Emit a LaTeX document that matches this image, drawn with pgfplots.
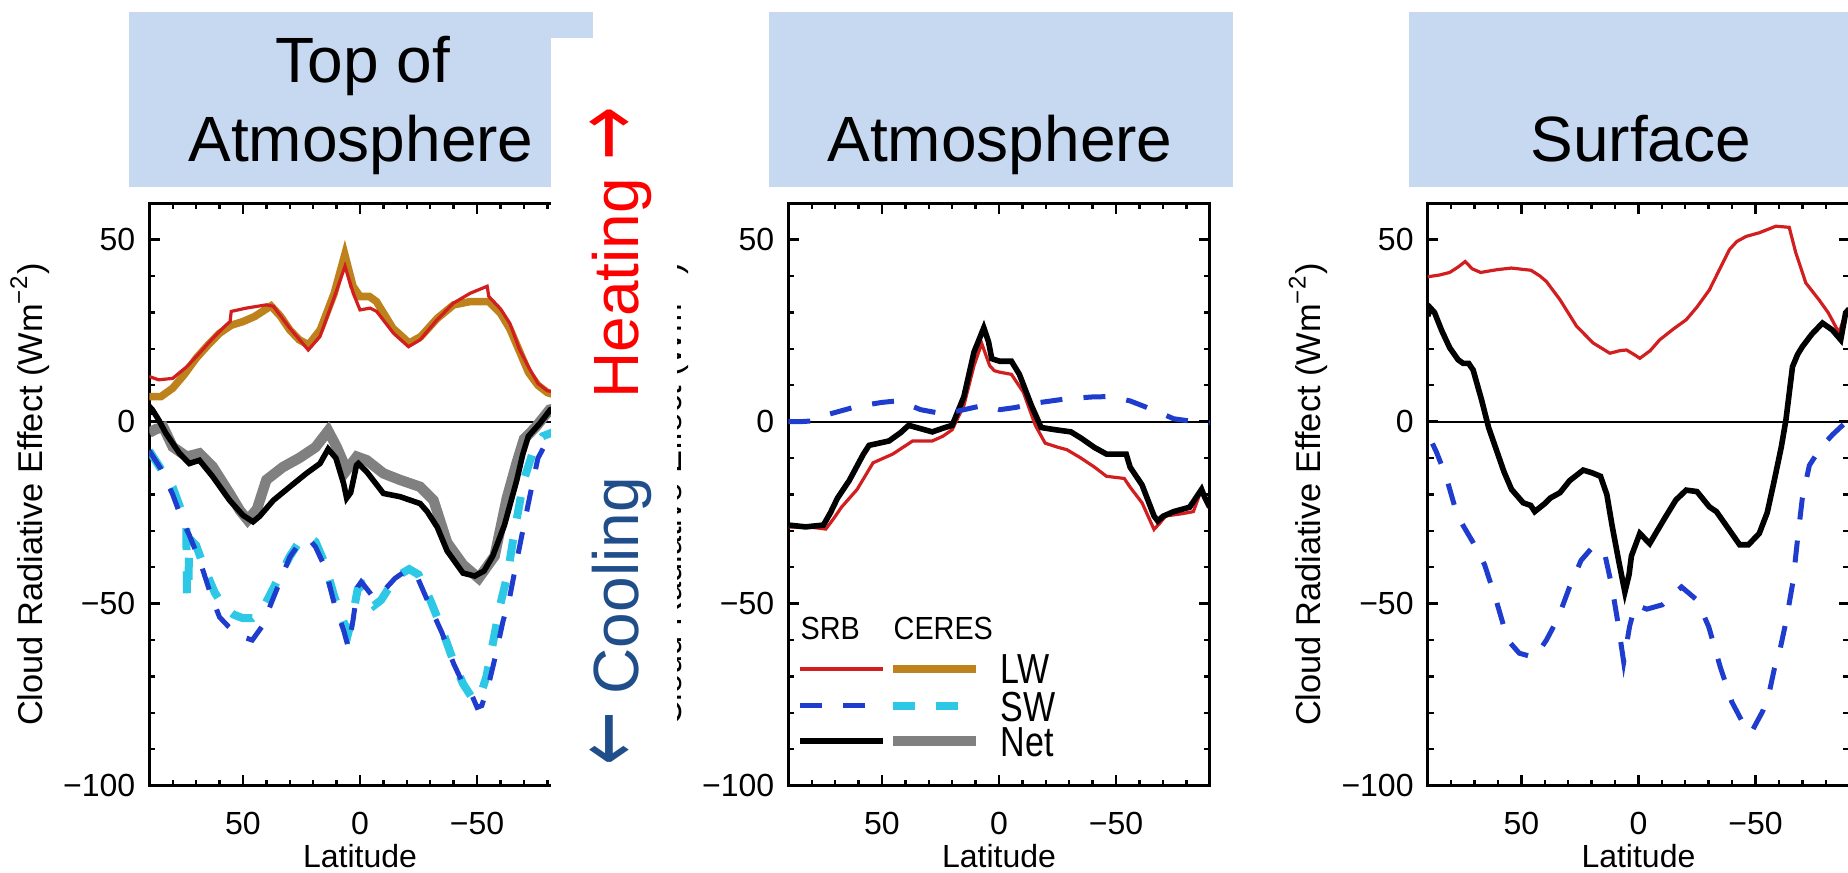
\documentclass[border=0pt]{standalone}
\usepackage{fontspec}
\setmainfont{Liberation Sans}
\newfontfamily\arrowfont{DejaVu Sans}
\usepackage{graphicx}
\usepackage{pgfplots}
\pgfplotsset{compat=1.18}
\definecolor{hdr}{RGB}{198,217,240}
\definecolor{srbred}{RGB}{210,30,30}
\definecolor{ceresbrown}{RGB}{190,130,28}
\definecolor{srbblue}{RGB}{30,60,205}
\definecolor{cerescyan}{RGB}{45,200,230}
\definecolor{ceresgray}{RGB}{128,128,128}
\definecolor{coolblue}{RGB}{31,78,138}
\tikzset{
  srblw/.style={color=srbred, line width=0.8pt},
  cereslw/.style={color=ceresbrown, line width=1.9pt},
  srbsw/.style={color=srbblue, line width=1.25pt, dash pattern=on 5.5pt off 5.3pt},
  ceressw/.style={color=cerescyan, line width=2pt, dash pattern=on 5.5pt off 5.3pt},
  srbnet/.style={color=black, line width=1.4pt},
  ceresnet/.style={color=ceresgray, line width=2.6pt},
  zeroline/.style={color=black, line width=0.55pt},
}
\newcommand{\bigarrow}[1]{{\arrowfont\scalebox{1}[1.45]{#1}}}
\pgfplotsset{
  panel/.style={
    scale only axis, width=105.375pt, height=145.6pt,
    xmin=-90, xmax=90, ymin=-100, ymax=60, x dir=reverse,
    xtick={-50,0,50}, xticklabels={−50,0,50},
    ytick={-100,-50,0,50}, yticklabels={−100,−50,0,50},
    minor xtick={-90,-80,...,90}, minor ytick={-100,-90,...,60},
    tick align=inside, major tick length=2.6pt, minor tick length=1.5pt,
    every tick/.style={black, line width=0.6pt},
    axis line style={line width=0.8pt},
    tick label style={font=\fontsize{8}{9.6}\selectfont},
    xticklabel style={yshift=-3pt},
    xlabel={Latitude},
    every axis x label/.style={at={(axis description cs:0.5,-0.1413)}, anchor=base, font=\fontsize{8}{9.6}\selectfont},
    ylabel={Cloud\ Radiative\ Effect\ (Wm\textsuperscript{−2})},
    every axis y label/.style={at={(axis description cs:-0.283,0.5)}, rotate=90, anchor=center, font=\fontsize{8.6}{10}\selectfont},
    no marks, clip=true,
  }
}
\begin{document}
\begin{tikzpicture}
\useasboundingbox (0,0) rectangle (462pt,218.25pt);
\clip (0,0) rectangle (462pt,218.25pt);
% ---------------- Panel 1: Top of Atmosphere
\begin{axis}[panel, at={(37.325pt,21.825pt)}, anchor=south west]
\addplot[zeroline] coordinates {(90,0) (-90,0)};
\addplot[ceresnet] coordinates {(90,-3) (87,-2) (84,-1.5) (80,-6.9) (74,-9.6) (68.6,-8.7) (62.9,-12.4) (55.7,-19.7) (51.4,-24.3) (48,-27) (44,-24) (40,-16) (33,-12.5) (26,-10) (19,-7) (13.6,-2.5) (10,-6.9) (5.7,-13.3) (1.4,-9.6) (-2.9,-10.6) (-10,-14.2) (-17.1,-16) (-25.7,-17.9) (-31.4,-21.6) (-37.2,-33.2) (-44,-39.3) (-50.7,-43) (-57.5,-36.9) (-62.7,-21) (-66.9,-11.3) (-70,-4.8) (-75,-1.5) (-81,3.3) (-86,4) (-90,4)};
\addplot[cereslw] coordinates {(90,6.9) (85,6.9) (80,9.2) (75,13) (70,17.4) (65,21) (60,24.3) (55,26.5) (50,27.5) (45,28.9) (38,31.8) (34,29) (30,25.2) (26,22.5) (22,21.1) (17,25.2) (11,35.3) (6.5,45.9) (3,37.2) (0,34.4) (-4,34.4) (-7,33) (-14,25.7) (-21,21.6) (-26,23.4) (-33,28.4) (-40,32.1) (-47,33) (-55,33) (-60,29.8) (-64,25.5) (-68,19.5) (-72,13.5) (-76,10) (-80,8) (-85,7) (-90,7)};
\addplot[ceressw] coordinates {(90,-8) (85,-13) (80,-18) (76,-25) (74.2,-29) (73.9,-48) (73.3,-48) (73,-32) (70,-34) (66,-41) (62,-47) (58,-51) (54,-53) (50,-54) (46,-54) (42,-52) (38,-47) (34,-42) (30,-37) (26,-33) (22,-31.5) (19,-33) (15,-39) (11,-48) (7,-55) (5,-58) (3,-53) (1,-46) (-1,-45) (-3,-48) (-6,-50.5) (-9,-49) (-13,-45) (-17,-42) (-21,-40.5) (-25,-42) (-30,-49) (-35,-57) (-40,-66) (-44,-72) (-48,-76) (-51,-76) (-54,-70) (-57,-60) (-60,-50) (-63,-42) (-66,-30) (-70,-16) (-74,-8) (-78,-4) (-82,-3) (-90,-3)};
\addplot[srbsw] coordinates {(90,-8) (85,-13) (80,-20) (76,-27) (73,-31) (68,-39) (64,-47) (60,-53.7) (56,-56.4) (52,-58.7) (46,-60) (42,-56.4) (38,-50) (34,-43.6) (30,-37.2) (26,-33.5) (22,-32.1) (19,-34.4) (15,-39.9) (11,-50) (7,-57.3) (5,-62) (3,-54.6) (1,-45.4) (-0.5,-44) (-3,-46) (-6,-48.5) (-10,-46.5) (-15,-43) (-20,-40.8) (-24,-42) (-30,-50.9) (-35,-58) (-40,-66.5) (-44,-72) (-48,-75.5) (-50,-78.5) (-52,-78) (-55,-72) (-58,-64) (-61,-55) (-64,-48) (-67,-38) (-69.5,-30) (-73,-19) (-76,-10) (-81,-4) (-85,-3) (-90,-3)};
\addplot[srblw] coordinates {(90,12.4) (86,11.5) (80,11.9) (74,15.1) (68.6,18.8) (62.9,22.9) (57.1,26.6) (55.5,27.5) (55,30.3) (48.6,31.2) (40,32.1) (37,31.7) (30,25.7) (22.1,19.7) (17.1,23.4) (11.4,33.5) (6.4,42.7) (2.9,35.3) (0,30.7) (-4.3,31.2) (-7.1,30.3) (-14.3,24.3) (-20.7,20.6) (-25.7,22.5) (-32.9,28) (-40,32.6) (-47.1,35.3) (-54.3,37.2) (-55,34.4) (-60,31) (-64,27) (-68,20) (-72,15) (-76,10.5) (-80,8.5) (-85,8) (-90,8)};
\addplot[srbnet] coordinates {(90,2) (89.3,3.7) (88.6,3.2) (86,0.5) (82.9,-3.2) (77.1,-8.7) (72.9,-11.5) (68.6,-10.6) (62.9,-15.1) (55.7,-21.6) (50,-25.7) (45.7,-27.5) (42.9,-26) (37,-21.6) (30,-17.9) (22.9,-14.2) (17.1,-11.5) (13.6,-7.5) (10.3,-10) (7,-17) (5.7,-21) (4,-19.5) (1.5,-12) (0.7,-11.5) (-2.9,-13.8) (-10,-19.7) (-17.1,-20.6) (-25.7,-22.5) (-28.7,-24.7) (-33,-29) (-37.2,-35.5) (-44,-41.6) (-49,-42.4) (-53,-41) (-56.7,-36.9) (-61.7,-28.4) (-64,-23) (-66.9,-16.2) (-69.5,-9) (-71.9,-4) (-76.9,-0.4) (-81.3,3.3) (-86,4) (-90,4)};
\end{axis}
% ---------------- Panel 2: Atmosphere
\begin{axis}[panel, at={(197.075pt,21.825pt)}, anchor=south west]
\addplot[zeroline] coordinates {(90,0) (-90,0)};
\addplot[srblw] coordinates {(90,-28.9) (80,-29) (74,-29.5) (70.5,-26.5) (67.3,-23.5) (60.6,-18.6) (53.8,-11.3) (45.4,-8.9) (36.9,-5.3) (28.5,-5.3) (24,-4) (20,-2.2) (15,4.5) (10.7,15.4) (7.4,21.5) (4,15.4) (2,14) (-0.3,13.6) (-5.3,13) (-10.4,8.1) (-15.5,-1) (-19.7,-5.9) (-25,-7) (-29,-7.7) (-35,-10) (-40.8,-12.5) (-45.9,-15) (-53.5,-15.6) (-56,-18) (-61.1,-22.3) (-66.2,-29.6) (-68.5,-28) (-71.2,-25.9) (-78,-25.3) (-83,-24.7) (-86.5,-18.6) (-88,-21) (-90,-23.5)};
\addplot[srbnet] coordinates {(90,-28.4) (82.6,-28.9) (75,-28.4) (72,-25) (69,-21) (64,-16.2) (58,-9) (55.5,-6.5) (47,-5.3) (42,-3) (38.6,-1) (33,-2) (28.5,-2.8) (24,-1.8) (20,-1) (15,6.9) (10.7,19.1) (6.5,25.8) (4.5,22) (3.1,17.3) (-0.3,16.6) (-5.3,16.6) (-8.7,13) (-13.8,4.5) (-18,-1.6) (-23.9,-2.2) (-30.7,-2.8) (-35,-4.5) (-40.8,-7.1) (-45.9,-8.9) (-54.3,-8.9) (-56,-12.5) (-61.1,-17.4) (-66.2,-25.9) (-67.8,-27.3) (-70,-26) (-74.6,-24.7) (-81.4,-23.5) (-86.5,-18.6) (-88,-21) (-90,-23.5)};
\addplot[srbsw] coordinates {(90,0) (85,0) (80,0.2) (72.4,2.1) (60.6,4.2) (50,5.3) (43.7,5.7) (38,4.5) (33.5,3.3) (23.4,2.1) (15,3.3) (6.5,4.5) (-0.3,3.3) (-7,3.9) (-15.5,5.1) (-29,6.3) (-40,6.8) (-47.6,6.9) (-56,5.7) (-62,4.2) (-67.8,2.7) (-74.6,0.8) (-81.4,0.2) (-90,-0.3)};
\end{axis}
% ---------------- Panel 3: Surface
\begin{axis}[panel, at={(356.925pt,21.825pt)}, anchor=south west]
\addplot[zeroline] coordinates {(90,0) (-90,0)};
\addplot[srblw] coordinates {(90,39.8) (85,40.3) (80.6,41) (77,42.5) (74,44) (71,42) (67.4,41) (60,41.8) (54.2,42.2) (45.9,41.6) (42,40) (39.3,38.5) (33.5,33.5) (26.4,26.2) (19.3,21.6) (12.2,18.8) (8,19.5) (5.1,19.7) (2,18.5) (-0.6,17.4) (-5,19.5) (-9.1,22.5) (-15,25.5) (-20.4,28) (-25,31.5) (-30.3,36.2) (-34,41) (-38.9,47.3) (-42,49.5) (-46,50.9) (-51.6,51.9) (-58.7,53.7) (-64.4,53.4) (-67.2,46.4) (-71.5,38.1) (-77.1,33.5) (-81,30) (-85.7,24.4) (-88.5,29.9) (-90,31)};
\addplot[srbnet] coordinates {(90,29) (88.8,31.2) (87.1,30) (84,25) (80.6,20.3) (77,17) (74.8,16) (72.5,16) (70.6,14.2) (67,6) (64,-1.6) (60,-9) (57.4,-13.8) (54.2,-18.6) (49.2,-22.3) (46,-23) (44.3,-24.7) (40,-22.5) (37.7,-21) (33.5,-19.5) (29.4,-16.2) (23.6,-13.3) (20,-14) (16.2,-15) (13.5,-20) (11.3,-28.4) (8.5,-38) (5.8,-46.8) (4,-42) (3,-36.9) (-0.6,-30.7) (-4.8,-33.5) (-8,-30) (-11.8,-25.9) (-16,-21.5) (-20.4,-18.8) (-25,-19.2) (-30.3,-23.4) (-33.3,-24.7) (-38,-29) (-43.2,-33.8) (-47,-33.8) (-51.6,-30.7) (-55,-25) (-58,-16.2) (-61,-7) (-63,0.5) (-65.8,15.1) (-68,18.5) (-70,20.6) (-74,24) (-78.6,27.1) (-82.8,25.2) (-86.4,22.5) (-88.5,29.9) (-90,31)};
\addplot[srbsw] coordinates {(88,-6) (86.3,-8.3) (82.2,-15) (77.3,-25.9) (70.6,-33.2) (65.7,-39.3) (60.8,-49) (55.8,-60) (50.9,-63.6) (44.3,-64.8) (39.3,-60) (34.3,-53.9) (29.4,-45.4) (24.5,-38.1) (19.5,-34.4) (14.6,-35.7) (11.3,-45.4) (8.8,-55.1) (6.3,-66) (3.8,-56.3) (1.4,-50.3) (-3.6,-51.5) (-10.2,-50.3) (-18.4,-45.4) (-25,-49) (-30,-56.3) (-34.9,-67.3) (-39.9,-77) (-44.9,-83.1) (-48.1,-85.5) (-53.1,-79.5) (-56,-74) (-58,-68) (-60,-64) (-63,-55) (-66,-44) (-68,-32) (-70,-21) (-73,-12) (-78,-7) (-83,-3.5) (-88,-0.5) (-90,0)};
\end{axis}
% ---------------- Overlay (pixel coordinates, y downward)
\begin{scope}[x=0.25pt, y=-0.25pt, shift={(0pt,218.25pt)}]
\fill[hdr] (129,12) rectangle (592.7,186.7);
\fill[hdr] (769,12) rectangle (1232.7,186.7);
\fill[hdr] (1409,12) rectangle (1870,186.7);
\begin{scope}[every node/.style={anchor=base, inner sep=0pt, font=\fontsize{16}{19}\selectfont}]
\node at (363,83) {Top of};
\node at (361,162) {Atmosphere};
\node at (1000,162) {Atmosphere};
\node at (1640.7,162) {Surface};
\end{scope}
\fill[white] (551,38) rectangle (677,880);
\node[rotate=90, anchor=base, inner sep=0pt, text=red, font=\fontsize{16}{19}\selectfont] at (638,252.5) {Heating \bigarrow{→}};
\node[rotate=90, anchor=base, inner sep=0pt, text=coolblue, font=\fontsize{16}{19}\selectfont] at (638,621.5) {\bigarrow{←} Cooling};
% legend of the middle panel
\draw[srblw] (800,669) -- (882.7,669);
\draw[cereslw] (892.7,669) -- (976,669);
\draw[srbsw] (800,705.7) -- (866,705.7);
\draw[ceressw] (892.7,705.7) -- (959,705.7);
\draw[srbnet] (800,741) -- (882.7,741);
\draw[ceresnet] (892.7,741) -- (976,741);
\node[anchor=base west, inner sep=0pt, xscale=0.9, font=\fontsize{8}{9.6}\selectfont] at (800,640) {SRB};
\node[anchor=base west, inner sep=0pt, xscale=0.9, font=\fontsize{8}{9.6}\selectfont] at (893,640) {CERES};
\node[anchor=base west, inner sep=0pt, xscale=0.81, font=\fontsize{10.5}{12}\selectfont] at (1000,684) {LW};
\node[anchor=base west, inner sep=0pt, xscale=0.81, font=\fontsize{10.5}{12}\selectfont] at (1000,722) {SW};
\node[anchor=base west, inner sep=0pt, xscale=0.81, font=\fontsize{10.5}{12}\selectfont] at (1000,757) {Net};
\end{scope}
\end{tikzpicture}
\end{document}
